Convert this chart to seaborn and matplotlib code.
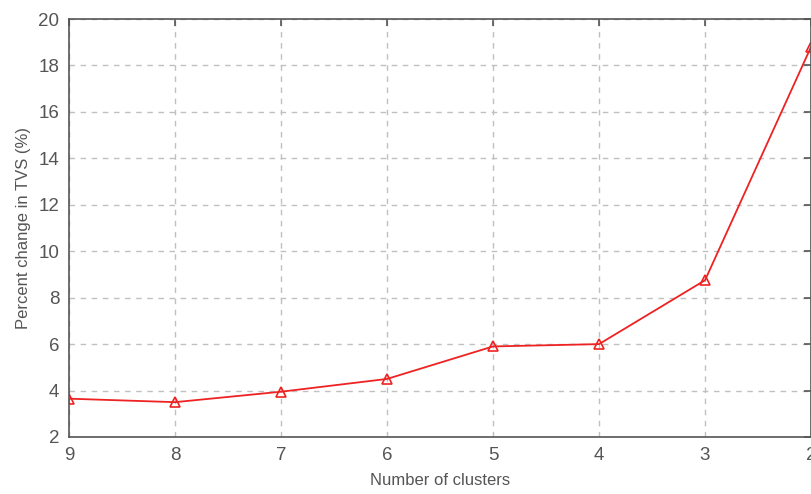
import matplotlib
matplotlib.use("Agg")
import matplotlib.pyplot as plt
import seaborn as sns
import pandas as pd

clusters = [9, 8, 7, 6, 5, 4, 3, 2]
tvs_change = [3.65, 3.5, 3.95, 4.5, 5.9, 6.0, 8.75, 18.8]
x_ticks = [9, 8, 7, 6, 5, 4, 3, 2]
y_ticks = [2, 4, 6, 8, 10, 12, 14, 16, 18, 20]

sns.set_style("white")
plt.rcParams["font.family"] = ["Liberation Sans", "DejaVu Sans"]

df = pd.DataFrame({"clusters": clusters, "tvs": tvs_change})

fig = plt.figure(figsize=(8.12, 4.94), dpi=100)
ax = fig.add_axes([0.085, 0.1154, 0.9138, 0.8461])

sns.lineplot(data=df, x="clusters", y="tvs", ax=ax, color="#ee2222",
             linewidth=1.3, marker="^", markersize=7,
             markerfacecolor="none", markeredgecolor="#ee2222",
             markeredgewidth=1.2, sort=False)

ax.set_xlim(9, 2)
ax.set_ylim(2, 20)
ax.set_xticks(x_ticks)
ax.set_yticks(y_ticks)

ax.grid(True, linestyle=(0, (4, 4)), color="#c0c0c0", linewidth=1.0)
for s in ax.spines.values():
    s.set_color("#555555")
    s.set_linewidth(1.2)
    s.set_visible(True)

ax.tick_params(direction="in", top=True, right=True, length=5,
               width=1.2, color="#555555", labelcolor="#555555",
               labelsize=13.5, pad=7)
ax.set_xlabel("Number of clusters", fontsize=12, color="#555555", labelpad=7)
ax.set_ylabel("Percent change in TVS (%)", fontsize=12, color="#555555",
              labelpad=5)

fig.savefig("out.png", dpi=100)
